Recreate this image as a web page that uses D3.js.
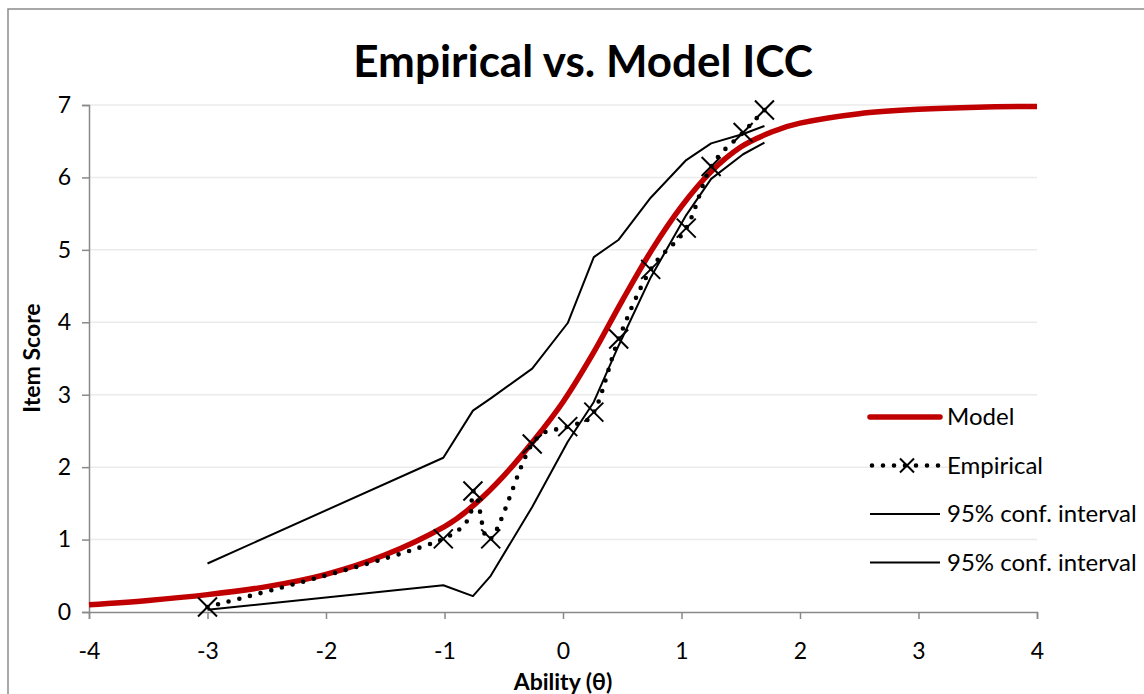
<!DOCTYPE html>
<html>
<head>
<meta charset="utf-8">
<script src="https://cdn.jsdelivr.net/npm/d3@7"></script>
<style>
  body { margin: 0; background: #fff; }
  svg text { font-family: Lato, "Open Sans", sans-serif; fill: #000; }
</style>
</head>
<body>
<div id="chart"></div>
<script>
// model ICC
const modelTheta = [-4, -3.5, -3, -2.5, -2, -1.5, -1, -0.75, -0.5, -0.25, 0, 0.25, 0.5, 0.75, 1, 1.25, 1.5, 1.75, 2, 2.5, 3, 3.5, 4];
const modelScore = [0.10, 0.16, 0.24, 0.35, 0.52, 0.79, 1.18, 1.48, 1.88, 2.36, 2.90, 3.56, 4.30, 5.00, 5.60, 6.08, 6.42, 6.62, 6.75, 6.88, 6.94, 6.97, 6.98];

// empirical points and the 95% interval share the same abilities
const empTheta = [-3.00, -1.01, -0.76, -0.61, -0.26, 0.04, 0.26, 0.47, 0.74, 1.04, 1.25, 1.52, 1.70];
const empScore = [0.07, 1.01, 1.67, 1.01, 2.32, 2.56, 2.76, 3.77, 4.73, 5.30, 6.15, 6.62, 6.93];
const ciUpper = [0.67, 2.13, 2.78, 2.95, 3.36, 3.99, 4.90, 5.14, 5.72, 6.24, 6.47, 6.60, 6.71];
const ciLower = [0.03, 0.37, 0.22, 0.50, 1.45, 2.35, 2.90, 3.68, 4.62, 5.48, 5.98, 6.32, 6.48];

const xTicks = [-4, -3, -2, -1, 0, 1, 2, 3, 4];
const yTicks = [0, 1, 2, 3, 4, 5, 6, 7];
const legendLabels = ["Model", "Empirical", "95% conf. interval", "95% conf. interval"];

const width = 1144;
const height = 694;
const red = "#c00000";
const axisColor = "#898989";

const svg = d3
  .select("#chart")
  .append("svg")
  .attr("width", width)
  .attr("height", height);

// chart frame (only left and top edges fall inside the picture)
svg
  .append("path")
  .attr("d", `M8,${height + 5}V9H${width + 5}`)
  .attr("fill", "none")
  .attr("stroke", "#8c8c8c")
  .attr("stroke-width", 1.5);

const x = d3.scaleLinear().domain([-4, 4]).range([89, 1037]);
const y = d3.scaleLinear().domain([0, 7]).range([612, 105]);

/* gridlines */
svg
  .append("g")
  .selectAll("line")
  .data(yTicks.filter((d) => d > 0))
  .enter()
  .append("line")
  .attr("x1", x(-4))
  .attr("x2", x(4))
  .attr("y1", (d) => y(d))
  .attr("y2", (d) => y(d))
  .attr("stroke", "#ebebeb")
  .attr("stroke-width", 1.5);

/* axes */
const plain = (d) => String(d);

const xAxis = svg
  .append("g")
  .attr("transform", `translate(0, ${y(0)})`)
  .call(d3.axisBottom(x).tickValues(xTicks).tickFormat(plain).tickSize(7).tickPadding(24));

const yAxis = svg
  .append("g")
  .attr("transform", `translate(${x(-4)}, 0)`)
  .call(d3.axisLeft(y).tickValues(yTicks).tickFormat(plain).tickSize(7).tickPadding(11));

[xAxis, yAxis].forEach((g) => {
  g.select(".domain").attr("stroke", axisColor).attr("stroke-width", 1.5);
  g.selectAll(".tick line").attr("stroke", axisColor).attr("stroke-width", 1.5);
  g.selectAll(".tick text")
    .attr("font-size", 23)
    .attr("font-family", "Lato, sans-serif")
    .attr("fill", "#000");
});

/* titles */
svg
  .append("text")
  .attr("x", 583)
  .attr("y", 77)
  .attr("text-anchor", "middle")
  .attr("font-size", 44)
  .attr("font-weight", "bold")
  .text("Empirical vs. Model ICC");

svg
  .append("text")
  .attr("x", 563)
  .attr("y", 690)
  .attr("text-anchor", "middle")
  .attr("font-size", 23)
  .attr("font-weight", "bold")
  .text("Ability (θ)");

svg
  .append("text")
  .attr("transform", "translate(40, 358) rotate(-90)")
  .attr("text-anchor", "middle")
  .attr("font-size", 23)
  .attr("font-weight", "bold")
  .text("Item Score");

/* series */
const smooth = d3.curveCardinal.tension(0);

const line = d3
  .line()
  .x((d) => x(d[0]))
  .y((d) => y(d[1]));

const modelData = modelTheta.map((t, i) => [t, modelScore[i]]);
const empData = empTheta.map((t, i) => [t, empScore[i]]);
const upperData = empTheta.map((t, i) => [t, ciUpper[i]]);
const lowerData = empTheta.map((t, i) => [t, ciLower[i]]);

const lines = svg.append("g").attr("fill", "none");

lines
  .selectAll(".ci")
  .data([upperData, lowerData])
  .enter()
  .append("path")
  .attr("class", "ci")
  .attr("d", (d) => line.curve(d3.curveLinear)(d))
  .attr("stroke", "#000")
  .attr("stroke-width", 2)
  .attr("stroke-linejoin", "round");

lines
  .append("path")
  .attr("d", line.curve(smooth)(modelData))
  .attr("stroke", red)
  .attr("stroke-width", 5.5);

lines
  .append("path")
  .attr("d", line.curve(smooth)(empData))
  .attr("stroke", "#000")
  .attr("stroke-width", 4.6)
  .attr("stroke-linecap", "round")
  .attr("stroke-dasharray", "0 11");

const xMark = "M-9.5,-9.5L9.5,9.5M-9.5,9.5L9.5,-9.5";

svg
  .append("g")
  .selectAll("path")
  .data(empData)
  .enter()
  .append("path")
  .attr("d", xMark)
  .attr("transform", (d) => `translate(${x(d[0])}, ${y(d[1])})`)
  .attr("fill", "none")
  .attr("stroke", "#000")
  .attr("stroke-width", 2);

/* legend */
const legend = svg.append("g").attr("transform", "translate(870, 417)");
const rowGap = 48.5;

const rows = legend
  .selectAll("g")
  .data(legendLabels)
  .enter()
  .append("g")
  .attr("transform", (d, i) => `translate(0, ${i * rowGap})`);

rows
  .append("line")
  .attr("x1", 0)
  .attr("x2", 70)
  .attr("stroke", (d, i) => (i === 0 ? red : "#000"))
  .attr("stroke-width", (d, i) => (i === 0 ? 5.5 : i === 1 ? 4.6 : 2))
  .attr("stroke-linecap", (d, i) => (i === 0 || i === 1 ? "round" : "butt"))
  .attr("stroke-dasharray", (d, i) => (i === 1 ? "0 11" : null))
  .attr("transform", (d, i) => (i === 1 ? "translate(2, 0)" : null));

rows
  .filter((d, i) => i === 1)
  .append("path")
  .attr("d", "M-7,-7L7,7M-7,7L7,-7")
  .attr("transform", "translate(37, 0)")
  .attr("fill", "none")
  .attr("stroke", "#000")
  .attr("stroke-width", 2);

rows
  .append("text")
  .attr("x", 77)
  .attr("dy", "0.35em")
  .attr("font-size", 24)
  .text((d) => d);
</script>
</body>
</html>
